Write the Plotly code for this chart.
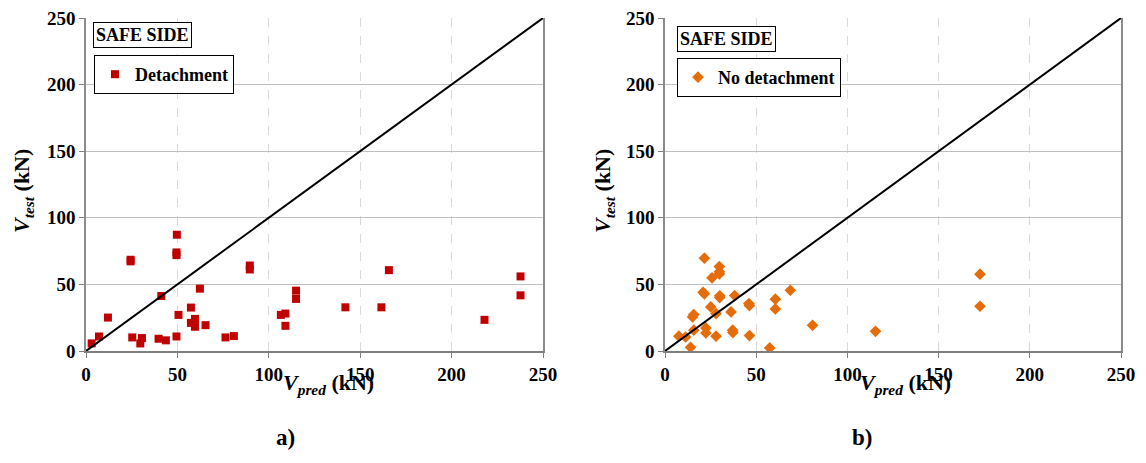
import plotly.graph_objects as go

# ---- data: panel a) Detachment ----
det_x = [49.7, 49.5, 49.5, 24.4, 24.4, 89.6, 89.6, 62.3, 41.2, 57.4, 50.6, 59.6, 57.4, 59.6,
         65.4, 12.0, 7.1, 3.1, 25.3, 30.6, 29.7, 39.7, 43.7, 49.5, 76.3, 80.9, 106.6, 109.1,
         109.1, 114.9, 114.9, 165.7, 141.9, 161.6, 218.0, 237.7, 237.7]
det_y = [87.3, 74.0, 72.0, 68.5, 67.3, 64.2, 61.2, 46.8, 41.3, 32.6, 27.1, 24.1, 21.1, 18.2,
         19.4, 25.1, 10.9, 5.7, 10.2, 9.7, 5.7, 9.2, 8.0, 10.9, 10.2, 11.2, 27.1, 28.1,
         18.9, 45.3, 39.1, 60.7, 32.8, 32.8, 23.4, 56.0, 41.8]

# ---- data: panel b) No detachment ----
nod_x = [21.6, 29.8, 29.8, 29.8, 25.8, 20.9, 21.6, 30.0, 30.0, 38.2, 46.0, 46.3, 25.1, 36.2,
         28.0, 15.8, 15.1, 15.8, 22.4, 22.4, 37.1, 37.2, 28.0, 46.3, 7.6, 11.3, 14.0, 57.4,
         60.5, 60.5, 68.7, 80.9, 115.4, 172.7, 172.7]
nod_y = [69.7, 63.4, 59.5, 57.8, 54.9, 44.1, 42.9, 41.4, 40.1, 41.6, 35.6, 34.1, 33.1, 29.3,
         28.1, 27.4, 25.6, 15.6, 17.3, 13.5, 15.6, 13.8, 11.1, 11.6, 11.1, 10.5, 2.8, 2.3,
         38.9, 31.6, 45.6, 19.3, 14.8, 57.7, 33.6]

line_x = [0, 250]
line_y = [0, 250]
ticks = [0, 50, 100, 150, 200, 250]

FONT = "Liberation Serif, Times New Roman, Times, serif"

fig = go.Figure()

fig.add_trace(go.Scatter(x=det_x, y=det_y, mode="markers", name="<b>Detachment</b>",
                         marker=dict(symbol="square", size=8, color="#C00000",
                                     line=dict(width=0)),
                         xaxis="x", yaxis="y", legend="legend"))
fig.add_trace(go.Scatter(x=line_x, y=line_y, mode="lines", showlegend=False,
                         line=dict(color="black", width=2), xaxis="x", yaxis="y"))

fig.add_trace(go.Scatter(x=nod_x, y=nod_y, mode="markers", name="<b>No detachment</b>",
                         marker=dict(symbol="diamond", size=9, color="#E46C0A",
                                     line=dict(width=0)),
                         xaxis="x2", yaxis="y2", legend="legend2"))
fig.add_trace(go.Scatter(x=line_x, y=line_y, mode="lines", showlegend=False,
                         line=dict(color="black", width=2), xaxis="x2", yaxis="y2"))

W, H = 1146, 463
def px(x):
    return x / W
def py(y):
    return 1 - y / H

xax = dict(range=[0, 250], tickvals=ticks, showgrid=True, gridcolor="#D9D9D9",
           griddash="dash", gridwidth=1, zeroline=False, showline=True,
           linecolor="#7F7F7F", linewidth=1.5, mirror=False, ticks="outside",
           ticklen=5, tickcolor="#7F7F7F", automargin=False,
           tickfont=dict(family=FONT, size=19, color="black", weight="bold"))
yax = dict(range=[0, 250], tickvals=ticks, showgrid=True, gridcolor="#BFBFBF",
           gridwidth=1, zeroline=False, showline=True, linecolor="#8C8C8C",
           linewidth=1.5, mirror=True, ticks="outside", ticklen=5, tickcolor="#7F7F7F",
           automargin=False,
           tickfont=dict(family=FONT, size=19, color="black", weight="bold"))

fig.update_layout(
    width=W, height=H,
    margin=dict(l=0, r=0, t=0, b=0, autoexpand=False),
    paper_bgcolor="white", plot_bgcolor="white",
    font=dict(family=FONT, color="black"),
    xaxis=dict(xax, domain=[px(86), px(543)], anchor="y"),
    yaxis=dict(yax, domain=[py(351), py(18)], anchor="x"),
    xaxis2=dict(xax, domain=[px(665), px(1121)], anchor="y2"),
    yaxis2=dict(yax, domain=[py(351), py(18)], anchor="x2"),
    legend=dict(x=px(94), y=py(55), xanchor="left", yanchor="top",
                bordercolor="black", borderwidth=1, bgcolor="white",
                font=dict(family=FONT, size=18, color="black"),
                itemwidth=30, tracegroupgap=0),
    legend2=dict(x=px(677), y=py(58), xanchor="left", yanchor="top",
                 bordercolor="black", borderwidth=1, bgcolor="white",
                 font=dict(family=FONT, size=18, color="black"),
                 itemwidth=30, tracegroupgap=0),
    showlegend=True,
)

xtitle = "<b><i>V</i><sub><i>pred</i></sub> (kN)</b>"
ytitle = "<b><i>V</i><sub><i>test</i></sub> (kN)</b>"
ann = [
    dict(x=px(328), y=py(384), text=xtitle),
    dict(x=px(905), y=py(384), text=xtitle),
    dict(x=px(23), y=py(191), text=ytitle, textangle=-90),
    dict(x=px(604), y=py(191), text=ytitle, textangle=-90),
    dict(x=px(285), y=py(437), text="<b>a)</b>", size=23),
    dict(x=px(862), y=py(437), text="<b>b)</b>", size=23),
]
for a in ann:
    fig.add_annotation(x=a["x"], y=a["y"], xref="paper", yref="paper",
                       text=a["text"], showarrow=False, textangle=a.get("textangle", 0),
                       xanchor="center", yanchor="middle",
                       font=dict(family=FONT, size=a.get("size", 22), color="black"))

for x0, y0 in [(93, 35), (677, 39)]:
    fig.add_annotation(x=px(x0), y=py(y0), xref="paper", yref="paper",
                       text="<b>SAFE SIDE</b>", showarrow=False, xanchor="left",
                       yanchor="middle", bordercolor="black", borderwidth=1,
                       borderpad=2, bgcolor="white",
                       font=dict(family=FONT, size=18, color="black"))

fig.write_html("out.html", config={"displayModeBar": False},
               post_script="document.body.style.margin='0';document.body.style.overflow='hidden';")
